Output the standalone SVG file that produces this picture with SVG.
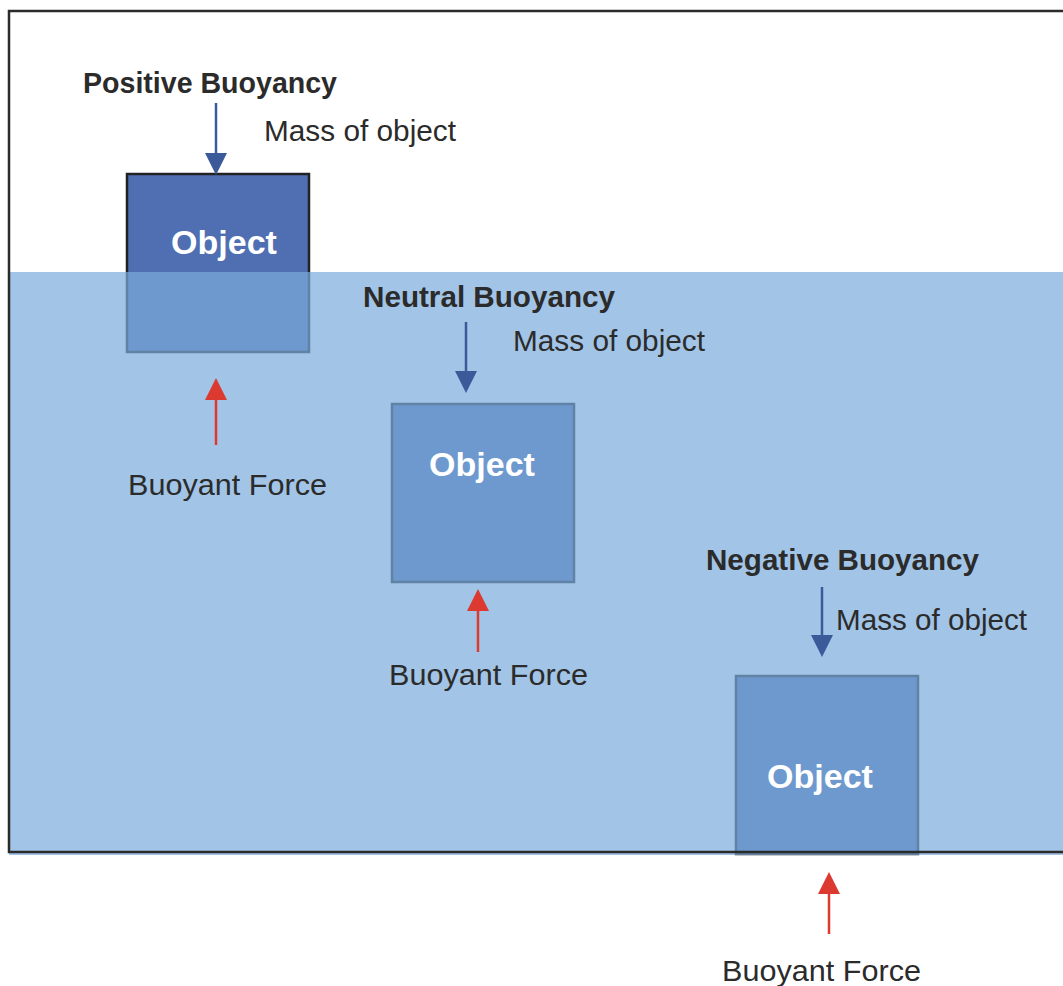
<svg xmlns="http://www.w3.org/2000/svg" width="1063" height="986" viewBox="0 0 1063 986">
<style>
.t{font-family:"Liberation Sans",Arial,sans-serif;fill:#2b2b2b;font-size:30px}
.b{font-family:"Liberation Sans",Arial,sans-serif;fill:#2b2b2b;font-size:29px;font-weight:bold}
.o{font-family:"Liberation Sans",Arial,sans-serif;fill:#ffffff;font-size:34px;font-weight:bold;text-anchor:middle}
.obj{fill:#4f6fb2;stroke:#222;stroke-width:2.5}
.down{stroke:#3a5a9a;stroke-width:2.5;fill:none}
.dh{fill:#3a5a9a}
.up{stroke:#dc3a30;stroke-width:2.5;fill:none}
.uh{fill:#dc3a30}
</style>
<rect x="0" y="0" width="1063" height="986" fill="#ffffff"/>
<g id="objects">
<rect id="obj1" class="obj" x="127" y="174" width="182" height="178"/>
<rect id="obj2" class="obj" x="392" y="404" width="182" height="178"/>
<rect id="obj3" class="obj" x="736" y="676" width="182" height="178"/>
</g>
<rect id="water" x="9" y="272" width="1054" height="583" fill="rgb(122,171,219)" fill-opacity="0.7"/>
<path id="tank" d="M1063,11 L9,11 L9,852 L1063,852" fill="none" stroke="#2b2b2b" stroke-width="2.5"/>
<g id="connectors">
<line class="down" x1="216" y1="103" x2="216" y2="156"/>
<path class="dh" d="M205,153 L227,153 L216,175 Z"/>
<line class="up" x1="216" y1="445" x2="216" y2="398"/>
<path class="uh" d="M216,378 L227,400 L205,400 Z"/>
<line class="down" x1="466" y1="322" x2="466" y2="374"/>
<path class="dh" d="M455,371 L477,371 L466,393 Z"/>
<line class="up" x1="478" y1="652" x2="478" y2="609"/>
<path class="uh" d="M478,589 L489,611 L467,611 Z"/>
<line class="down" x1="822" y1="587" x2="822" y2="638"/>
<path class="dh" d="M811,635 L833,635 L822,657 Z"/>
<line class="up" x1="829" y1="934" x2="829" y2="892"/>
<path class="uh" d="M829,872 L840,894 L818,894 Z"/>
</g>
<g id="positive">
<text class="b" x="83" y="93" textLength="254" lengthAdjust="spacingAndGlyphs">Positive Buoyancy</text>
<text class="t" x="264" y="141" textLength="192" lengthAdjust="spacingAndGlyphs">Mass of object</text>
<text class="o" x="224" y="254">Object</text>
<text class="t" x="128" y="495" textLength="199" lengthAdjust="spacingAndGlyphs">Buoyant Force</text>
</g>
<g id="neutral">
<text class="b" x="363" y="307" textLength="252" lengthAdjust="spacingAndGlyphs">Neutral Buoyancy</text>
<text class="t" x="513" y="351" textLength="192" lengthAdjust="spacingAndGlyphs">Mass of object</text>
<text class="o" x="482" y="476">Object</text>
<text class="t" x="389" y="685" textLength="199" lengthAdjust="spacingAndGlyphs">Buoyant Force</text>
</g>
<g id="negative">
<text class="b" x="706" y="570" textLength="273" lengthAdjust="spacingAndGlyphs">Negative Buoyancy</text>
<text class="t" x="836" y="630" textLength="191" lengthAdjust="spacingAndGlyphs">Mass of object</text>
<text class="o" x="820" y="788">Object</text>
<text class="t" x="722" y="981" textLength="199" lengthAdjust="spacingAndGlyphs">Buoyant Force</text>
</g>
</svg>
